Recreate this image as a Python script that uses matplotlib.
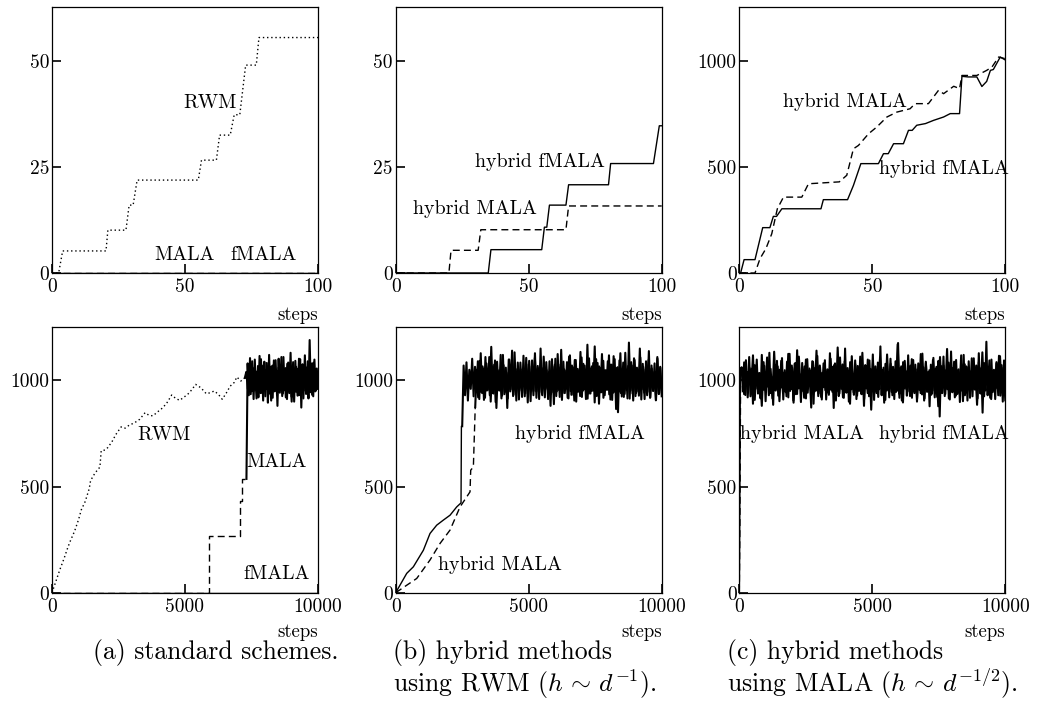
import numpy as np
import matplotlib
matplotlib.use("Agg")
import matplotlib.pyplot as plt

plt.rcParams['font.family'] = 'cmr10'
plt.rcParams['mathtext.fontset'] = 'cm'
plt.rcParams['axes.unicode_minus'] = False
plt.rcParams['axes.formatter.use_mathtext'] = True

# ---------------- data: top row (first 100 steps) ----------------
top_xticks = [0, 50, 100]
top_yticks_ab = [0, 25, 50]
top_yticks_c = [0, 500, 1000]

a_rwm_x = [0, 2.5, 4, 20.3, 21, 27.8, 29, 30.5, 32, 55, 56.2, 61.8, 63, 67, 68.5, 70.6, 72.8, 76.8, 77.8, 100]
a_rwm_y = [0, 0, 5.2, 5.2, 10.1, 10.1, 16, 16, 21.9, 21.9, 26.6, 26.6, 32.5, 32.5, 37.3, 37.3, 49, 49, 55.5, 55.5]
a_mala_x = [0, 100]
a_mala_y = [0, 0]
a_fmala_x = [0, 100]
a_fmala_y = [0, 0]

b_mala_x = [0, 20, 20.8, 31, 32, 64, 65, 100]
b_mala_y = [0, 0, 5.35, 5.35, 10.2, 10.2, 15.8, 15.8]
b_fmala_x = [0, 34.8, 35.8, 54.9, 55.9, 56.8, 57.8, 64, 65, 80, 80.8, 96.9, 99.1, 100]
b_fmala_y = [0, 0, 5.5, 5.5, 10.8, 10.8, 16, 16, 20.8, 20.8, 25.8, 25.8, 34.7, 34.7]

c_fmala_x = [0, 0.5, 1.8, 5.9, 8.8, 11.5, 12.8, 14, 16, 30.7, 31.6, 40.7, 42.9, 45.7, 52.3, 54.2, 56, 58,
             61.7, 63.6, 65, 66.7, 70, 73, 76.8, 79.3, 82.8, 83.7, 86, 89.3, 91.2, 93, 94.4, 95.5, 98.1, 100]
c_fmala_y = [0, 0, 63, 63, 214, 214, 267, 267, 303, 303, 346, 346, 413, 516, 516, 563, 563, 610,
             610, 673, 673, 697, 705, 720, 736, 752, 752, 928, 925, 925, 880, 904, 956, 960, 1019, 1005]
c_mala_x = [0, 5.9, 7.8, 10, 12.2, 14.3, 16.6, 23.5, 26, 37.6, 40.4, 42.9, 44.8, 48.6, 51.7, 55.5, 59.2,
            64.2, 66.1, 71.1, 74.9, 76.8, 80.6, 82.8, 83.7, 89.3, 93, 95, 97.5, 100]
c_mala_y = [0, 0, 68, 115, 185, 303, 358, 358, 421, 430, 461, 586, 602, 657, 689, 736, 759,
            775, 799, 799, 862, 846, 881, 870, 932, 932, 956, 972, 1019, 1011]

# ---------------- data: bottom row (10000 steps) ----------------
bot_xticks = [0, 5000, 10000]
bot_yticks = [0, 500, 1000]

A_rwm_x = [0, 150, 300, 450, 600, 700, 850, 1000, 1100, 1250, 1400, 1450, 1600, 1750, 1800, 1850, 2000,
           2100, 2250, 2400, 2600, 2750, 2900, 3100, 3300, 3500, 3650, 3800, 3950, 4100, 4300, 4500, 4650,
           4800, 4950, 5100, 5250, 5400, 5600, 5800, 5950, 6100, 6250, 6400, 6550, 6700, 6850, 6950, 7100, 7250]
A_rwm_y = [0, 55, 110, 160, 215, 247, 290, 345, 390, 430, 490, 528, 560, 585, 590, 669, 672,
           684, 710, 745, 781, 775, 789, 800, 817, 848, 835, 833, 850, 864, 890, 931, 915,
           906, 920, 934, 955, 981, 965, 937, 942, 950, 935, 911, 940, 973, 990, 1016, 997, 1012]
A_rwm_noise = [1040, 960, 1075, 935, 1090, 950, 1030, 915, 1068, 970, 1100, 942, 1055, 925, 1082, 958, 1036, 905, 1070, 948,
               1095, 930, 1060, 962, 1110, 938, 1048, 920, 1078, 955, 1032, 900, 1086, 945, 1064, 928, 1102, 952, 1044, 915,
               1072, 940, 1090, 960, 1050, 932, 1084, 948, 1038, 1010]
A_mala_x = [0, 5895, 5895, 7060, 7060, 7160, 7160, 7310]
A_mala_y = [0, 0, 267, 267, 434, 434, 536, 536]
A_mala_noise = [1080, 930, 1105, 948, 1060, 912, 1098, 955, 1042, 920, 1115, 940, 1070, 905, 1088, 958, 1050, 895, 1120, 936,
                1066, 918, 1094, 950, 1046, 880, 1102, 942, 1074, 926, 1110, 954, 1058, 912, 1084, 940, 1130, 922, 1068, 900,
                1092, 946, 1054, 930, 1100, 872, 1076, 952, 1118, 936, 1062, 915, 1190, 944, 1080, 925, 1098, 950, 1056, 960]
A_fmala_x = [0, 10000]
A_fmala_y = [0, 0]

B_fmala_x = [0, 414, 664, 1040, 1290, 1541, 1792, 2043, 2293, 2456, 2470, 2500]
B_fmala_y = [0, 91, 122, 200, 279, 318, 342, 365, 404, 423, 784, 784]
B_fmala_noise = [1070, 930, 1085, 905, 1050, 960, 1102, 925, 1064, 948, 1090, 912, 1128, 940, 1056, 918, 1080, 955, 1110, 900,
                 1066, 938, 1094, 870, 1048, 952, 1120, 928, 1072, 946, 1036, 915, 1098, 958, 1140, 932, 1060, 905, 1084, 950,
                 1052, 922, 1116, 940, 1076, 896, 1092, 956, 1044, 930, 1106, 948, 1068, 912, 1150, 936, 1058, 920, 1086, 962,
                 1040, 880, 1100, 944, 1074, 926, 1124, 954, 1062, 908, 1088, 940, 1046, 918, 1112, 950, 1070, 932, 1096, 900,
                 1054, 946, 1134, 922, 1078, 958, 1042, 914, 1104, 938, 1066, 952, 1160, 926, 1082, 890, 1058, 944, 1092, 930,
                 1048, 956, 1118, 910, 1074, 942, 1100, 865, 1062, 948, 1128, 924, 1084, 936, 1050, 915, 1178, 952, 1070, 905,
                 1096, 940, 1044, 928, 1108, 958, 1064, 912, 1090, 946, 1138, 920, 1056, 950, 1080, 908, 1102, 936, 1060, 925]
B_mala_x = [0, 790, 1290, 1667, 2043, 2419, 2794, 2820, 2920, 2990]
B_mala_y = [0, 67, 154, 232, 295, 404, 475, 577, 592, 875]
B_mala_noise = [1050, 920, 1092, 945, 1066, 908, 1110, 952, 1040, 930, 1158, 940, 1074, 898, 1088, 956, 1046, 915, 1120, 935,
                1060, 870, 1098, 948, 1072, 926, 1132, 942, 1054, 910, 1084, 958, 1042, 925, 1106, 938, 1068, 902, 1094, 950,
                1128, 918, 1058, 944, 1080, 930, 1112, 955, 1048, 912, 1090, 936, 1064, 888, 1102, 948, 1076, 922, 1144, 940,
                1052, 958, 1086, 915, 1118, 932, 1062, 905, 1096, 946, 1040, 926, 1108, 952, 1070, 912, 1168, 938, 1056, 950,
                1082, 896, 1100, 928, 1066, 944, 1124, 918, 1048, 956, 1090, 934, 1074, 908, 1114, 946, 1058, 850, 1094, 940,
                1046, 922, 1130, 954, 1068, 914, 1086, 938, 1104, 926, 1060, 948, 1150, 910, 1078, 942, 1052, 930, 1096, 918,
                1070, 952, 1040, 906, 1110, 936, 1064, 944]

C_fmala_x = [0, 15, 40]
C_fmala_y = [0, 310, 1050]
C_fmala_noise = [1062, 948, 1085, 931, 1040, 972, 1110, 925, 1055, 890, 1072, 960, 1098, 938, 1035, 915, 1120, 955, 1068, 902,
                 1045, 970, 1130, 940, 1015, 885, 1076, 952, 1092, 928, 1050, 965, 1105, 910, 1038, 945, 1088, 920, 1125, 958,
                 1060, 905, 1078, 935, 1142, 962, 1030, 898, 1082, 948, 1066, 915, 1100, 975, 1048, 930, 1090, 890, 1058, 952,
                 1115, 938, 1070, 922, 1036, 968, 1095, 910, 1052, 940, 1128, 955, 1064, 870, 1080, 946, 1042, 926, 1108, 960,
                 1075, 918, 1150, 942, 1058, 900, 1086, 958, 1030, 932, 1094, 912, 1068, 950, 1112, 935, 1046, 880, 1072, 962,
                 1098, 925, 1054, 946, 1122, 908, 1066, 940, 1084, 958, 1160, 930, 1050, 895, 1078, 952, 1040, 920, 1102, 945,
                 1064, 912, 1090, 950, 1176, 936, 1058, 905, 1086, 962, 1044, 928, 1118, 948, 1070, 918, 1096, 940, 1052, 900,
                 1080, 955, 1124, 934, 1062, 915, 1088, 946, 1040, 878, 1074, 938, 1106, 952, 1056, 922, 1092, 830, 1068, 940,
                 1112, 926, 1048, 958, 1084, 910, 1136, 944, 1060, 920, 1096, 936, 1052, 898, 1078, 950, 1120, 930, 1066, 905,
                 1090, 948, 1044, 925, 1104, 956, 1070, 915, 1128, 940, 1058, 848, 1082, 952, 1182, 930, 1064, 918, 1098, 945,
                 1050, 912, 1086, 960, 1116, 928, 1072, 900, 1094, 950]
C_mala_x = [0, 20, 50]
C_mala_y = [0, 300, 1040]
C_mala_noise = [1040, 935, 1095, 920, 1060, 962, 1118, 908, 1074, 945, 1030, 880, 1086, 952, 1108, 930, 1054, 915, 1135, 958,
                1066, 902, 1092, 940, 1048, 925, 1125, 950, 1070, 895, 1082, 936, 1112, 960, 1044, 918, 1098, 942, 1056, 872,
                1088, 948, 1140, 926, 1062, 910, 1080, 954, 1036, 932, 1102, 946, 1072, 905, 1155, 938, 1058, 920, 1090, 962,
                1046, 890, 1114, 944, 1076, 928, 1052, 956, 1130, 912, 1068, 940, 1094, 862, 1084, 950, 1042, 922, 1108, 935,
                1060, 908, 1122, 952, 1078, 930, 1050, 945, 1170, 918, 1066, 896, 1092, 958, 1038, 926, 1100, 948, 1074, 914,
                1056, 940, 1126, 905, 1082, 952, 1048, 932, 1096, 920, 1064, 878, 1110, 946, 1070, 936, 1148, 915, 1058, 955,
                1088, 928, 1044, 950, 1118, 902, 1076, 942, 1062, 918, 1104, 960, 1052, 885, 1086, 938, 1132, 925, 1068, 948,
                1094, 912, 1040, 956, 1080, 930, 1114, 944, 1060, 906]

captions_line1 = ["(a) standard schemes.", "(b) hybrid methods", "(c) hybrid methods"]
captions_line2 = ["", r"using RWM ($h\,\sim\,d^{-1}$).", r"using MALA ($h\,\sim\,d^{-1/2}$)."]


def noise_xy(px, py, noise, end=10000):
    xs = np.linspace(px[-1], end, len(noise) + 1)
    return xs, np.concatenate([[py[-1]], noise])


# ---------------- figure ----------------
W, H = 1042, 704
fig = plt.figure(figsize=(W / 100, H / 100), dpi=100)

lefts = [52, 395.7, 739.3]
axw = 266
top_row = (7, 273)
bot_row = (327.3, 592.7)


def make_ax(left, row):
    t, b = row
    return fig.add_axes([left / W, 1 - b / H, axw / W, (b - t) / H])


DOT = (0, (1, 2))
DASH = (0, (5, 3))
LW = 1.0
NLW = 1.5
TXT = 14.3


def style(ax, xt, yt, xl, yl, steps_y):
    ax.set_xlim(*xl)
    ax.set_ylim(*yl)
    ax.set_xticks(xt)
    ax.set_yticks(yt)
    ax.set_xticklabels([str(v) for v in xt])
    ax.set_yticklabels([str(v) for v in yt])
    ax.tick_params(direction='in', length=6.5, width=1.2, labelsize=14, top=False, right=False)
    ax.tick_params(axis='x', pad=4)
    ax.tick_params(axis='y', pad=2)
    for s in ax.spines.values():
        s.set_linewidth(0.9)
    ax.set_xlabel('steps', loc='right', fontsize=13.5)
    ax.xaxis.set_label_coords(1.0, steps_y)


def trace(ax, px, py, noise, ls):
    ax.plot(px, py, color='k', lw=LW, ls=ls)
    nx, ny = noise_xy(px, py, noise)
    ax.plot(nx, ny, color='k', lw=NLW, ls='-')


# top a
ax = make_ax(lefts[0], top_row)
ax.plot(a_mala_x, a_mala_y, color='k', lw=LW, ls=DASH)
ax.plot(a_fmala_x, a_fmala_y, color='k', lw=LW)
ax.plot(a_rwm_x, a_rwm_y, color='k', lw=LW, ls=DOT)
ax.text(69.5, 40, 'RWM', fontsize=TXT, ha='right', va='center')
ax.text(38.3, 4.2, 'MALA', fontsize=TXT, ha='left', va='center')
ax.text(67, 4.2, 'fMALA', fontsize=TXT, ha='left', va='center')
style(ax, top_xticks, top_yticks_ab, (0, 100), (0, 62.7), -0.124)

# top b
ax = make_ax(lefts[1], top_row)
ax.plot(b_mala_x, b_mala_y, color='k', lw=LW, ls=DASH)
ax.plot(b_fmala_x, b_fmala_y, color='k', lw=LW)
ax.text(78.8, 26.2, 'hybrid fMALA', fontsize=TXT, ha='right', va='center')
ax.text(53, 15.2, 'hybrid MALA', fontsize=TXT, ha='right', va='center')
style(ax, top_xticks, top_yticks_ab, (0, 100), (0, 62.7), -0.124)

# top c
ax = make_ax(lefts[2], top_row)
ax.plot(c_mala_x, c_mala_y, color='k', lw=LW, ls=DASH)
ax.plot(c_fmala_x, c_fmala_y, color='k', lw=LW)
ax.text(63, 805, 'hybrid MALA', fontsize=TXT, ha='right', va='center')
ax.text(52.7, 492, 'hybrid fMALA', fontsize=TXT, ha='left', va='center')
style(ax, top_xticks, top_yticks_c, (0, 100), (0, 1255), -0.124)

# bottom a
ax = make_ax(lefts[0], bot_row)
ax.plot(A_fmala_x, A_fmala_y, color='k', lw=LW)
trace(ax, A_mala_x, A_mala_y, A_mala_noise, DASH)
trace(ax, A_rwm_x, A_rwm_y, A_rwm_noise, DOT)
ax.text(3220, 741, 'RWM', fontsize=TXT, ha='left', va='center')
ax.text(7320, 616, 'MALA', fontsize=TXT, ha='left', va='center')
ax.text(7190, 88, 'fMALA', fontsize=TXT, ha='left', va='center')
style(ax, bot_xticks, bot_yticks, (0, 10000), (0, 1250), -0.114)

# bottom b
ax = make_ax(lefts[1], bot_row)
trace(ax, B_mala_x, B_mala_y, B_mala_noise, DASH)
trace(ax, B_fmala_x, B_fmala_y, B_fmala_noise, '-')
ax.text(4485, 749, 'hybrid fMALA', fontsize=TXT, ha='left', va='center')
ax.text(1600, 130, 'hybrid MALA', fontsize=TXT, ha='left', va='center')
style(ax, bot_xticks, bot_yticks, (0, 10000), (0, 1250), -0.114)

# bottom c
ax = make_ax(lefts[2], bot_row)
trace(ax, C_mala_x, C_mala_y, C_mala_noise, DASH)
trace(ax, C_fmala_x, C_fmala_y, C_fmala_noise, '-')
ax.text(25, 749, 'hybrid MALA', fontsize=TXT, ha='left', va='center')
ax.text(5265, 749, 'hybrid fMALA', fontsize=TXT, ha='left', va='center')
style(ax, bot_xticks, bot_yticks, (0, 10000), (0, 1250), -0.114)

# captions
cap_x = [93, 393, 727]
for cx, l1, l2 in zip(cap_x, captions_line1, captions_line2):
    fig.text(cx / W, 1 - 653 / H, l1, fontsize=18.5, ha='left', va='center')
    if l2:
        fig.text(cx / W, 1 - 684 / H, l2, fontsize=18.5, ha='left', va='center')

fig.savefig('out.png', dpi=100)
